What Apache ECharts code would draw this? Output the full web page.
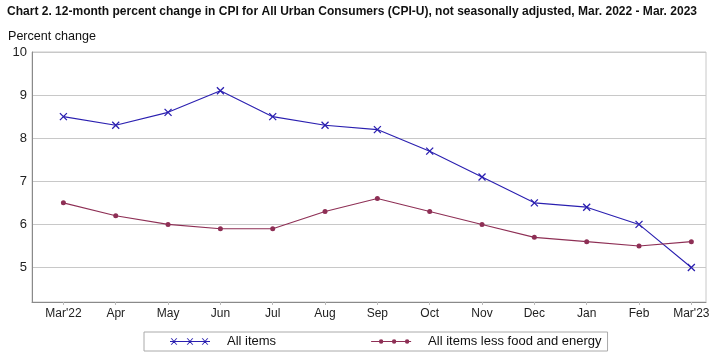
<!DOCTYPE html>
<html>
<head>
<meta charset="utf-8">
<script src="https://cdn.jsdelivr.net/npm/echarts@6/dist/echarts.min.js"></script>
<style>html,body{margin:0;padding:0;background:#fff}#c{width:715px;height:355px}</style>
</head>
<body>
<div id="c"></div>
<script>
var categories = ["Mar'22","Apr","May","Jun","Jul","Aug","Sep","Oct","Nov","Dec","Jan","Feb","Mar'23"];
var allItems = [8.5, 8.3, 8.6, 9.1, 8.5, 8.3, 8.2, 7.7, 7.1, 6.5, 6.4, 6.0, 5.0];
var coreItems = [6.5, 6.2, 6.0, 5.9, 5.9, 6.3, 6.6, 6.3, 6.0, 5.7, 5.6, 5.5, 5.6];
var yTicks = [5, 6, 7, 8, 9, 10];
var seriesNames = ["All items", "All items less food and energy"];
var titleText = 'Chart 2. 12-month percent change in CPI for All Urban Consumers (CPI-U), not seasonally adjusted, Mar. 2022 - Mar. 2023';
var subText = 'Percent change';

var FONT = "'Liberation Sans',Arial,sans-serif";
var BLUE = '#2a1fb0';
var MAROON = '#8e2f55';

var xIdx = categories.map(function(c, i){ return i; });
function pairs(arr){ return arr.map(function(v, i){ return [xIdx[i], v]; }); }

function measure(text, font){
  var cv = document.createElement('canvas').getContext('2d');
  cv.font = font;
  return cv.measureText(text).width;
}
var titleScale = 690 / measure(titleText, "bold 13px 'Liberation Sans'");
var subScale = 88 / measure(subText, "13px 'Liberation Sans'");

function xIcon(){
  var p = 'M0,4.6L40,4.6L40,5.4L0,5.4Z';
  [4, 20, 35].forEach(function(c){
    p += 'M'+(c-3.3)+',1.7L'+(c-2.2)+',1.7L'+(c+3.3)+',8.3L'+(c+2.2)+',8.3Z';
    p += 'M'+(c+2.2)+',1.7L'+(c+3.3)+',1.7L'+(c-2.2)+',8.3L'+(c-3.3)+',8.3Z';
  });
  return 'path://' + p;
}
function dotIcon(){
  var p = 'M0,4.6L40,4.6L40,5.4L0,5.4Z';
  [10, 23, 36].forEach(function(c){
    p += 'M'+(c-2.2)+',5A2.2,2.2 0 1,1 '+(c+2.2)+',5A2.2,2.2 0 1,1 '+(c-2.2)+',5Z';
  });
  return 'path://' + p;
}

var chart = echarts.init(document.getElementById('c'), null, {renderer:'canvas'});
chart.setOption({
  animation: false,
  textStyle: {fontFamily: FONT},
  graphic: [
    {type: 'text', left: 7, top: 5, scaleX: titleScale, originX: 0,
     style: {text: titleText, font: "bold 13px 'Liberation Sans'", fill: '#111'}},
    {type: 'text', left: 8, top: 30, scaleX: subScale, originX: 0,
     style: {text: subText, font: "13px 'Liberation Sans'", fill: '#111'}}
  ],
  grid: {left: 32, right: 9, top: 52, bottom: 53, show: true, borderColor: '#c8c8c8', borderWidth: 1},
  legend: {
    left: 144, top: 332,
    padding: [3, 6, 3, 26],
    itemGap: 95,
    itemWidth: 40, itemHeight: 10,
    borderColor: '#aaa', borderWidth: 1,
    itemStyle: {borderWidth: 0},
    textStyle: {fontFamily: FONT, fontSize: 13, color: '#111', padding: [0, 0, 0, 12]},
    data: [
      {name: seriesNames[0], icon: xIcon()},
      {name: seriesNames[1], icon: dotIcon()}
    ]
  },
  xAxis: {
    type: 'value',
    min: -0.6, max: 12.28,
    axisLine: {show: true, onZero: false, lineStyle: {color: '#8a8a8a', width: 1}},
    axisTick: {show: true, length: 3, lineStyle: {color: '#bbb'}, customValues: xIdx},
    axisLabel: {fontFamily: FONT, fontSize: 12, color: '#222', margin: 6, customValues: xIdx,
      formatter: function(v){ return categories[Math.round(v)] || ''; }},
    splitLine: {show: false}
  },
  yAxis: {
    type: 'value',
    min: 4.2, max: 10,
    axisLine: {show: true, onZero: false, lineStyle: {color: '#8a8a8a', width: 1}},
    axisTick: {show: false, customValues: yTicks},
    axisLabel: {fontFamily: FONT, fontSize: 13, color: '#222', margin: 5, customValues: yTicks},
    splitLine: {show: true, lineStyle: {color: '#c8c8c8', width: 1}}
  },
  series: [
    {
      name: seriesNames[0], type: 'line', data: pairs(allItems),
      symbol: 'path://M0,0L1,1M1,0L0,1', symbolSize: 7,
      lineStyle: {color: BLUE, width: 1.1},
      itemStyle: {color: BLUE, borderColor: BLUE, borderWidth: 1.3}
    },
    {
      name: seriesNames[1], type: 'line', data: pairs(coreItems),
      symbol: 'circle', symbolSize: 5,
      lineStyle: {color: MAROON, width: 1.1},
      itemStyle: {color: MAROON, borderColor: MAROON, borderWidth: 0}
    }
  ]
});
</script>
</body>
</html>
